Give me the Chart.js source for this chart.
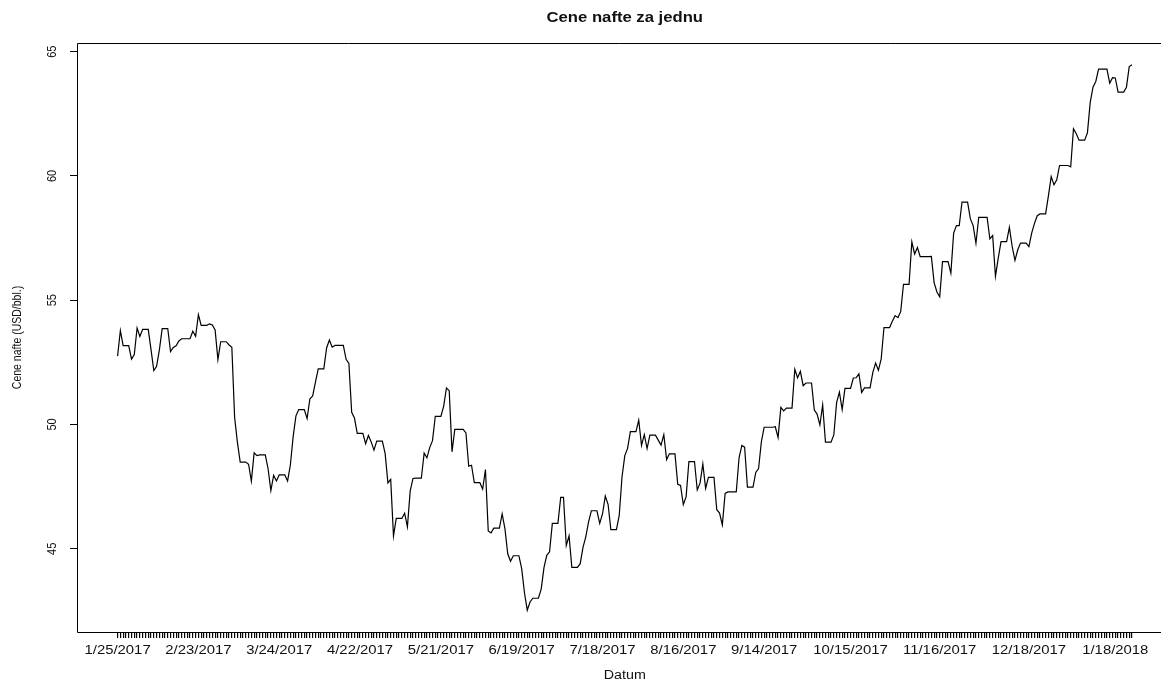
<!DOCTYPE html>
<html>
<head>
<meta charset="utf-8">
<title>Cene nafte za jednu</title>
<script src="https://cdn.jsdelivr.net/npm/chart.js@4.4.1/dist/chart.umd.min.js"></script>
<style>
  html, body { margin: 0; padding: 0; background: #fff; }
</style>
</head>
<body>
<canvas id="oilChart" width="1161" height="681"></canvas>
<script>
// daily WTI price, weekends/holidays carry the last close
const startDate = Date.UTC(2017, 0, 25);
const prices = [
  52.75, 53.78, 53.17, 53.17, 53.17, 52.63, 52.81,
  53.88, 53.54, 53.83, 53.83, 53.83, 53.01, 52.17,
  52.34, 53.00, 53.86, 53.86, 53.86, 52.93, 53.10,
  53.17, 53.36, 53.45, 53.45, 53.45, 53.45, 53.75,
  53.55, 54.42, 53.99, 53.99, 53.99, 54.05, 54.00,
  53.80, 52.61, 53.33, 53.33, 53.33, 53.20, 53.11,
  50.28, 49.28, 48.49, 48.49, 48.49, 48.40, 47.72,
  48.86, 48.75, 48.78, 48.78, 48.78, 48.22, 47.34,
  47.95, 47.73, 47.97, 47.97, 47.97, 47.73, 48.37,
  49.51, 50.35, 50.60, 50.60, 50.60, 50.24, 51.03,
  51.15, 51.70, 52.24, 52.24, 52.24, 53.08, 53.40,
  53.11, 53.18, 53.18, 53.18, 53.18, 52.62, 52.46,
  50.49, 50.26, 49.64, 49.64, 49.64, 49.23, 49.56,
  49.30, 48.97, 49.33, 49.33, 49.33, 48.84, 47.65,
  47.79, 45.52, 46.22, 46.22, 46.22, 46.43, 45.88,
  47.33, 47.83, 47.84, 47.84, 47.84, 48.85, 48.66,
  49.07, 49.35, 50.33, 50.33, 50.33, 50.73, 51.47,
  51.36, 48.90, 49.80, 49.80, 49.80, 49.80, 49.66,
  48.32, 48.36, 47.66, 47.66, 47.66, 47.40, 48.19,
  45.72, 45.64, 45.83, 45.83, 45.83, 46.40, 45.80,
  44.80, 44.50, 44.72, 44.72, 44.72, 44.20, 43.23,
  42.53, 42.86, 43.01, 43.01, 43.01, 43.38, 44.24,
  44.74, 44.88, 46.02, 46.02, 46.02, 47.07, 47.07,
  45.13, 45.52, 44.25, 44.25, 44.25, 44.40, 45.06,
  45.48, 46.08, 46.53, 46.53, 46.53, 46.02, 46.40,
  47.12, 46.79, 45.77, 45.77, 45.77, 46.34, 47.89,
  48.75, 49.04, 49.71, 49.71, 49.71, 50.17, 49.16,
  49.59, 49.03, 49.57, 49.57, 49.57, 49.37, 49.17,
  49.59, 48.59, 48.82, 48.82, 48.82, 47.59, 47.55,
  46.78, 47.09, 48.51, 48.51, 48.51, 47.37, 47.64,
  48.41, 47.43, 47.87, 47.87, 47.87, 46.57, 46.44,
  45.96, 47.23, 47.29, 47.29, 47.29, 47.29, 48.66,
  49.16, 49.09, 47.48, 47.48, 47.48, 48.07, 48.23,
  49.30, 49.89, 49.89, 49.89, 49.89, 49.91, 49.48,
  50.69, 50.55, 50.66, 50.66, 50.66, 52.22, 51.88,
  52.14, 51.56, 51.67, 51.67, 51.67, 50.58, 50.42,
  49.98, 50.79, 49.29, 49.29, 49.29, 49.58, 50.88,
  51.30, 50.60, 51.45, 51.45, 51.45, 51.87, 51.88,
  52.04, 51.29, 51.47, 51.47, 51.47, 52.10, 52.47,
  52.18, 52.64, 53.90, 53.90, 53.90, 54.15, 54.38,
  54.30, 54.54, 55.64, 55.64, 55.64, 57.35, 56.86,
  57.12, 56.75, 56.75, 56.75, 56.75, 56.76, 55.70,
  55.33, 55.14, 56.55, 56.55, 56.55, 56.09, 57.70,
  58.00, 58.00, 58.95, 58.95, 58.95, 58.27, 58.00,
  57.29, 58.33, 58.33, 58.33, 58.33, 57.47, 57.60,
  55.96, 56.69, 57.36, 57.36, 57.36, 57.93, 57.16,
  56.60, 57.03, 57.30, 57.30, 57.30, 57.16, 57.70,
  58.09, 58.40, 58.47, 58.47, 58.47, 59.20, 59.97,
  59.64, 59.84, 60.42, 60.42, 60.42, 60.42, 60.37,
  61.90, 61.70, 61.44, 61.44, 61.44, 61.73, 62.96,
  63.57, 63.80, 64.30, 64.30, 64.30, 64.30, 63.73,
  63.95, 63.94, 63.37, 63.37, 63.37, 63.57, 64.40,
  64.47
];
// labels that fit under the dense tick row
const tickLabels = [
  '1/25/2017', '2/23/2017', '3/24/2017', '4/22/2017', '5/21/2017',
  '6/19/2017', '7/18/2017', '8/16/2017', '9/14/2017', '10/15/2017',
  '11/16/2017', '12/18/2017', '1/18/2018'
];
const yTicks = [45, 50, 55, 60, 65];
const titleText = 'Cene nafte za jednu';
const xTitle = 'Datum';
const yTitle = 'Cene nafte (USD/bbl.)';

const dates = prices.map((_, i) => {
  const d = new Date(startDate + i * 86400000);
  return (d.getUTCMonth() + 1) + '/' + d.getUTCDate() + '/' + d.getUTCFullYear();
});

const FONT = '"Liberation Sans", Arial, Helvetica, sans-serif';
const STRETCH = 1.19;           // text is drawn a bit wider than tall
const n = prices.length;
const lo = Math.min(...prices);
const hi = Math.max(...prices);
const yPad = (hi - lo) * 0.04;
const xMin = -(n - 1) * 0.04;
const xFull = (n - 1) * 1.04;   // right end of the full plot box
const xMax = 374.4;             // canvas edge cuts the box here

function wideText(ctx, text, x, y, font, rotate) {
  ctx.save();
  ctx.translate(x, y);
  ctx.scale(STRETCH, 1);
  if (rotate) ctx.rotate(-Math.PI / 2);
  ctx.font = font;
  ctx.fillText(text, 0, 0);
  ctx.restore();
}

const frame = {
  id: 'frame',
  afterDraw(chart) {
    const { ctx, chartArea: a, scales: { x, y } } = chart;
    ctx.save();
    ctx.strokeStyle = '#000';
    ctx.lineWidth = 1;
    ctx.beginPath();
    ctx.moveTo(chart.width, a.top + 0.5);
    ctx.lineTo(a.left + 0.5, a.top + 0.5);
    ctx.lineTo(a.left + 0.5, a.bottom + 0.5);
    ctx.lineTo(chart.width, a.bottom + 0.5);
    ctx.stroke();

    ctx.fillStyle = '#111';
    ctx.textAlign = 'center';
    ctx.textBaseline = 'middle';

    // y tick labels run parallel to the axis
    yTicks.forEach(v => {
      wideText(ctx, String(v), 52, y.getPixelForValue(v), '11px ' + FONT, true);
    });

    dates.forEach((d, i) => {
      if (tickLabels.includes(d)) {
        wideText(ctx, d, x.getPixelForValue(i), 651, '12.5px ' + FONT, false);
      }
    });

    const midX = (x.getPixelForValue(xMin) + x.getPixelForValue(xFull)) / 2;
    wideText(ctx, titleText, midX, 18, 'bold 14px ' + FONT, false);
    wideText(ctx, xTitle, midX, 676, '12px ' + FONT, false);
    wideText(ctx, yTitle, 18, (a.top + a.bottom) / 2, '10.5px ' + FONT, true);
    ctx.restore();
  }
};

new Chart(document.getElementById('oilChart'), {
  type: 'line',
  data: {
    datasets: [{
      data: prices.map((v, i) => ({ x: i, y: v })),
      borderColor: '#000',
      borderWidth: 1.2,
      pointRadius: 0,
      tension: 0,
      fill: false
    }]
  },
  options: {
    responsive: false,
    animation: false,
    devicePixelRatio: 1,
    layout: { padding: { top: 43, right: 0, bottom: 0, left: 0 } },
    plugins: {
      legend: { display: false },
      tooltip: { enabled: false },
      title: { display: false }
    },
    scales: {
      x: {
        type: 'linear',
        min: xMin,
        max: xMax,
        afterBuildTicks: s => { s.ticks = dates.map((_, i) => ({ value: i })); },
        afterFit: s => { s.height = 49; },
        border: { display: false },
        grid: { drawOnChartArea: false, drawTicks: true, tickLength: 6, color: '#000', lineWidth: 1.2 },
        ticks: { display: false }
      },
      y: {
        type: 'linear',
        min: lo - yPad,
        max: hi + yPad,
        afterBuildTicks: s => { s.ticks = yTicks.map(v => ({ value: v })); },
        afterFit: s => { s.width = 77; },
        border: { display: false },
        grid: { drawOnChartArea: false, drawTicks: true, tickLength: 7, color: '#000', lineWidth: 1 },
        ticks: { display: false }
      }
    }
  },
  plugins: [frame]
});
</script>
</body>
</html>
